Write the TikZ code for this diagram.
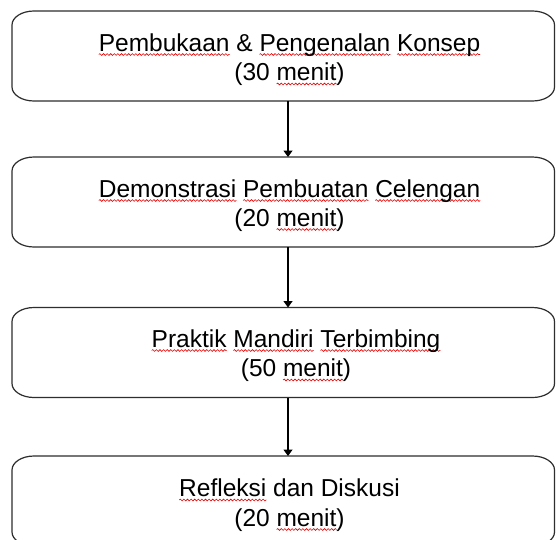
\documentclass[tikz,border=0pt]{standalone}
\usepackage{fontspec}
\setmainfont{Liberation Sans}
\usetikzlibrary{arrows.meta,decorations.pathmorphing}
\tikzset{splwave/.style={draw=red!90!black,line width=0.6pt,decorate,
  decoration={snake,amplitude=0.9pt,segment length=3.6pt}}}
\newsavebox\splbox
\newlength\splw
\newcommand\spl[1]{\sbox\splbox{#1}\setlength\splw{\wd\splbox}%
  \rlap{\tikz[baseline=0pt,overlay]\draw[splwave](0pt,-3.5pt)--(\splw,-3.5pt);}\usebox\splbox}
\newcommand\ellbox[1]{%
  \draw[boxline] ([xshift=22pt]#1.north west) -- ([xshift=-22pt]#1.north east)
    arc[start angle=90,end angle=0,x radius=22pt,y radius=14pt]
    -- ([yshift=14pt]#1.south east)
    arc[start angle=0,end angle=-90,x radius=22pt,y radius=14pt]
    -- ([xshift=22pt]#1.south west)
    arc[start angle=-90,end angle=-180,x radius=22pt,y radius=14pt]
    -- ([yshift=-14pt]#1.north west)
    arc[start angle=180,end angle=90,x radius=22pt,y radius=14pt] -- cycle;}
\begin{document}
\begin{tikzpicture}[x=1pt,y=1pt,
  boxshape/.style={draw=none,minimum width=542.5pt,minimum height=90pt,inner sep=0pt,outer sep=0pt},
  txt/.style={inner sep=0pt,outer sep=0pt,anchor=base,font=\fontsize{24.5}{29}\selectfont,text=black},
  boxline/.style={draw=black!82,line width=1.2pt},
  arr/.style={draw=black,line width=1.3pt,-{Triangle[width=9pt,length=6.5pt]}}]
\useasboundingbox (0,0) rectangle (556,-539);
\clip (0,0) rectangle (556,-539);
\fill[white] (0,0) rectangle (556,-539);
% boxes
\node[boxshape] (b1) at (283.25,-56) {};
\node[boxshape] (b2) at (283.25,-202) {};
\node[boxshape] (b3) at (283.25,-352.5) {};
\node[boxshape] (b4) at (283.25,-501) {};
\ellbox{b1}
\ellbox{b2}
\ellbox{b3}
\ellbox{b4}
% texts
\node[txt] (t1a) at (289.5,-51) {\spl{Pembukaan} \& \spl{Pengenalan} \spl{Konsep}};
\node[txt] (t1b) at (289.5,-80.5) {(30 \spl{menit})};
\node[txt] (t2a) at (289.5,-197) {\spl{Demonstrasi} \spl{Pembuatan} \spl{Celengan}};
\node[txt] (t2b) at (289.5,-226) {(20 \spl{menit})};
\node[txt] (t3a) at (296,-347) {\spl{Praktik} \spl{Mandiri} \spl{Terbimbing}};
\node[txt] (t3b) at (296,-376.5) {(50 \spl{menit})};
\node[txt] (t4a) at (289.5,-496.5) {\spl{Refleksi} dan Diskusi};
\node[txt] (t4b) at (289.5,-526) {(20 \spl{menit})};
% arrows
\draw[arr] ([xshift=4.75pt]b1.south) -- ([xshift=4.75pt]b2.north);
\draw[arr] ([xshift=4.75pt]b2.south) -- ([xshift=4.75pt]b3.north);
\draw[arr] ([xshift=4.75pt]b3.south) -- ([xshift=4.75pt]b4.north);
\end{tikzpicture}
\end{document}
